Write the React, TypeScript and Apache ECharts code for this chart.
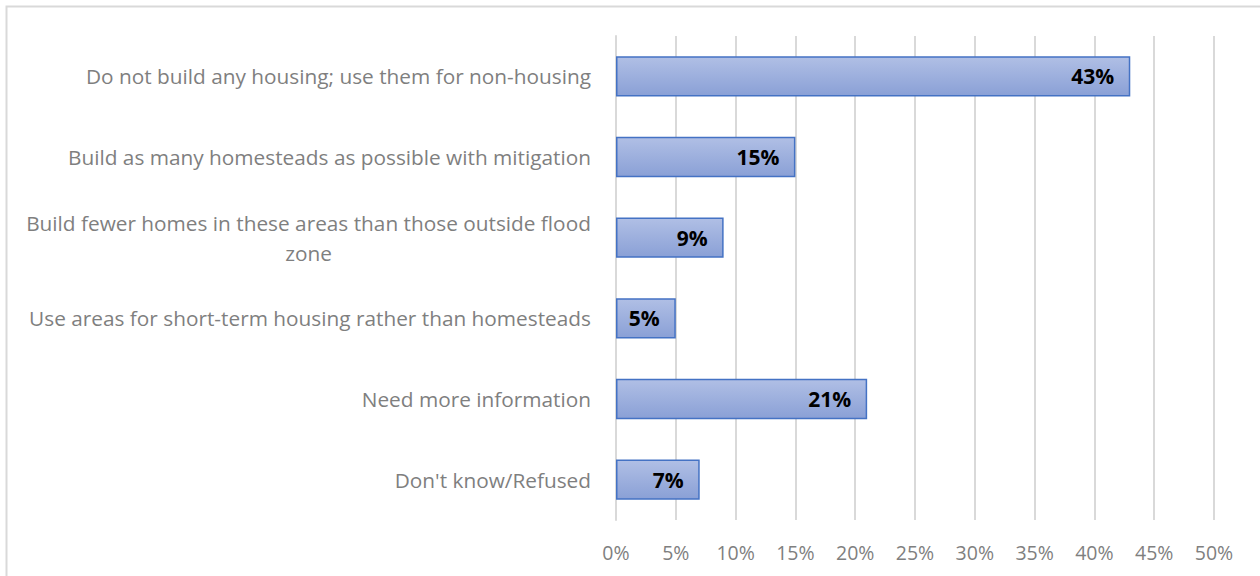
import React, { useEffect, useRef } from "react";
import * as echarts from "echarts";

const categories = [
  "Do not build any housing; use them for non-housing",
  "Build as many homesteads as possible with mitigation",
  "Build fewer homes in these areas than those outside flood\nzone",
  "Use areas for short-term housing rather than homesteads",
  "Need more information",
  "Don't know/Refused",
];
const values = [43, 15, 9, 5, 21, 7];
const axisMax = 50;
const axisInterval = 5;

const FONT = "'Open Sans', 'Noto Sans', sans-serif";
const CAT_SIZE = 20.8;

function measure(text: string): number {
  const c = document.createElement("canvas").getContext("2d");
  if (!c) return text.length * 10;
  c.font = `${CAT_SIZE}px 'Open Sans'`;
  return Math.ceil(c.measureText(text).width);
}

export default function App() {
  const ref = useRef<HTMLDivElement>(null);
  useEffect(() => {
    if (!ref.current) return;
    const chart = echarts.init(ref.current, undefined, { renderer: "svg" });
    const wrapped = categories.find((c) => c.indexOf("\n") >= 0) || "";
    const wrapWidth = Math.max(...wrapped.split("\n").map(measure));
    chart.setOption({
      animation: false,
      backgroundColor: "#ffffff",
      graphic: [
        {
          type: "rect",
          shape: { x: 6.5, y: 6.5, width: 1400, height: 700 },
          style: { fill: "none", stroke: "#d9d9d9", lineWidth: 2 },
          silent: true,
          z: -1,
        },
      ],
      grid: { left: 616, right: 46, top: 36, bottom: 56, containLabel: false },
      xAxis: {
        type: "value",
        min: 0,
        max: axisMax,
        interval: axisInterval,
        axisLine: { show: false },
        axisTick: { show: false },
        splitLine: { show: true, lineStyle: { color: "#d9d9d9", width: 2 } },
        axisLabel: {
          formatter: (v: number) => `${v}%`,
          color: "#7f7f7f",
          fontFamily: FONT,
          fontSize: 19.5,
          margin: 22,
        },
      },
      yAxis: {
        type: "category",
        data: categories,
        inverse: true,
        axisLine: { show: true, lineStyle: { color: "#d9d9d9", width: 2 } },
        axisTick: { show: false },
        axisLabel: {
          color: "#7f7f7f",
          fontFamily: FONT,
          fontSize: CAT_SIZE,
          margin: 25,
          align: "right",
          lineHeight: 30,
          formatter: (v: string) => {
            if (v.indexOf("\n") >= 0) {
              return v
                .split("\n")
                .map((l) => `{c|${l}}`)
                .join("\n");
            }
            return v;
          },
          rich: {
            c: {
              width: wrapWidth,
              align: "center",
              color: "#7f7f7f",
              fontFamily: FONT,
              fontSize: CAT_SIZE,
              lineHeight: 30,
            },
          },
        },
      },
      series: [
        {
          type: "bar",
          data: values,
          barWidth: "50%",
          itemStyle: {
            color: new echarts.graphic.LinearGradient(0, 0, 0, 1, [
              { offset: 0, color: "#b0bfe5" },
              { offset: 1, color: "#8aa0d6" },
            ]),
            borderColor: "#4472c4",
            borderWidth: 1.5,
          },
          label: {
            show: true,
            position: "insideRight",
            distance: 16,
            formatter: (p: any) => `${p.value}%`,
            color: "#000000",
            fontWeight: "bold",
            fontFamily: FONT,
            fontSize: 21,
          },
        },
      ],
    });
    return () => chart.dispose();
  }, []);
  return (
    <div
      ref={ref}
      style={{ position: "fixed", left: 0, top: 0, width: 1260, height: 576 }}
    />
  );
}
